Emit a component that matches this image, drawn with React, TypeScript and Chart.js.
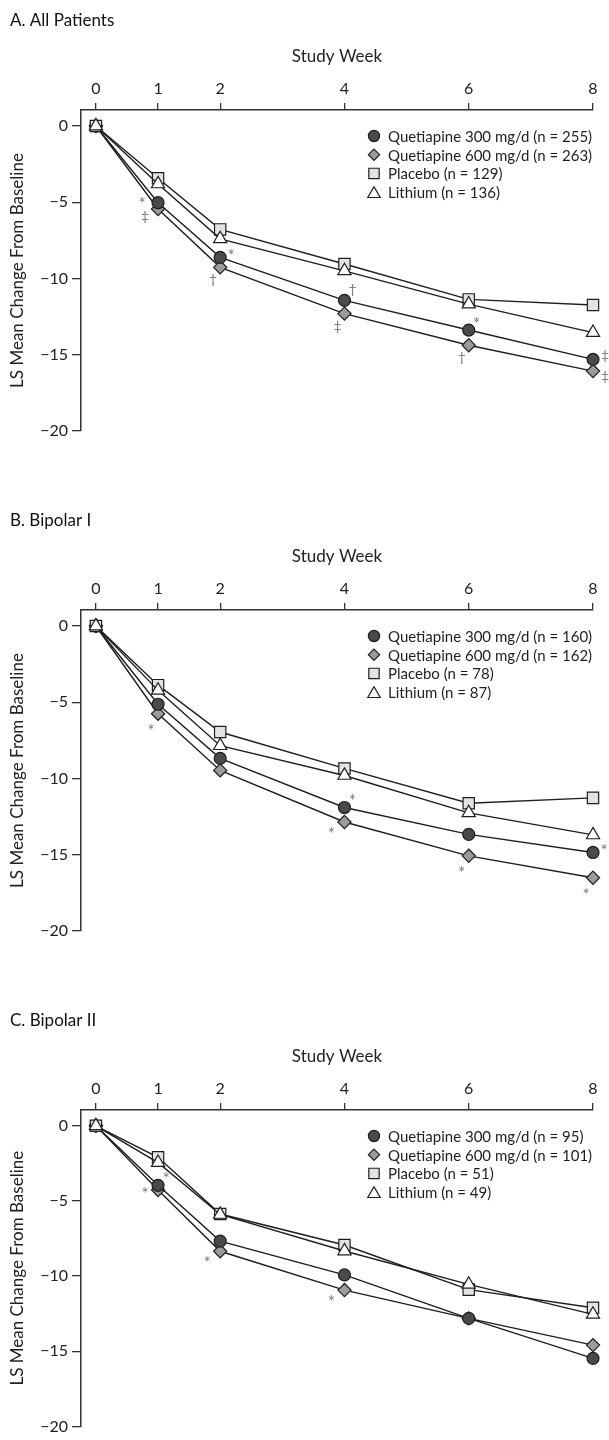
import React, { useEffect, useRef } from 'react';
import { Chart, registerables } from 'chart.js';

Chart.register(...registerables);

// ---------- data ----------
const WEEKS = [0, 1, 2, 4, 6, 8];
const X_TICKS = [0, 1, 2, 4, 6, 8];
const Y_TICKS = [-20, -15, -10, -5, 0];
const SERIES_NAMES = ['Quetiapine 300 mg/d', 'Quetiapine 600 mg/d', 'Placebo', 'Lithium'];

// A. All Patients
const A_Q300 = [0, -5.03, -8.61, -11.43, -13.38, -15.3];
const A_Q600 = [0, -5.44, -9.27, -12.3, -14.38, -16.07];
const A_PBO = [0, -3.43, -6.78, -9.05, -11.37, -11.74];
const A_LI = [0, -3.8, -7.4, -9.5, -11.68, -13.55];
const A_N = [255, 263, 129, 136];

// B. Bipolar I
const B_Q300 = [0, -5.13, -8.68, -11.9, -13.66, -14.85];
const B_Q600 = [0, -5.75, -9.47, -12.85, -15.07, -16.51];
const B_PBO = [0, -3.88, -6.95, -9.34, -11.62, -11.27];
const B_LI = [0, -4.22, -7.85, -9.8, -12.25, -13.7];
const B_N = [160, 162, 78, 87];

// C. Bipolar II
const C_Q300 = [0, -3.96, -7.67, -9.92, -12.81, -15.47];
const C_Q600 = [0, -4.27, -8.35, -10.93, -12.81, -14.59];
const C_PBO = [0, -2.1, -5.87, -7.93, -10.9, -12.11];
const C_LI = [0, -2.45, -5.9, -8.33, -10.55, -12.55];
const C_N = [95, 101, 51, 49];

// significance marks: series index, week, symbol, placement keyword
const A_MARKS = [
  { s: 0, w: 1, t: '*', p: 'left-up' },
  { s: 1, w: 1, t: '‡', p: 'left-down' },
  { s: 0, w: 2, t: '*', p: 'right-up' },
  { s: 1, w: 2, t: '†', p: 'below-left' },
  { s: 0, w: 4, t: '†', p: 'above-right' },
  { s: 1, w: 4, t: '‡', p: 'below-left' },
  { s: 0, w: 6, t: '*', p: 'above-right' },
  { s: 1, w: 6, t: '†', p: 'below-left' },
  { s: 0, w: 8, t: '‡', p: 'right' },
  { s: 1, w: 8, t: '‡', p: 'right-down' },
];
const B_MARKS = [
  { s: 1, w: 1, t: '*', p: 'below-left' },
  { s: 0, w: 4, t: '*', p: 'above-right' },
  { s: 1, w: 4, t: '*', p: 'left-down' },
  { s: 1, w: 6, t: '*', p: 'below-left' },
  { s: 0, w: 8, t: '*', p: 'right-up' },
  { s: 1, w: 8, t: '*', p: 'below-left' },
];
const C_MARKS = [
  { s: 1, w: 1, t: '*', p: 'left' },
  { s: 0, w: 1, t: '*', p: 'above-right' },
  { s: 1, w: 2, t: '*', p: 'left-down' },
  { s: 1, w: 4, t: '*', p: 'left-down' },
];

// ---------- styles ----------
const FONT = 'Lato, "Noto Sans", sans-serif';
const INK = '#1e1e1e';
const MARK_COLOR = '#7a7a7a';
const STYLES = [
  { pointStyle: 'circle', radius: 6, fill: '#4a4a4a', order: 2 },
  { pointStyle: 'rectRot', radius: 6.6, fill: '#9b9b9b', order: 3 },
  { pointStyle: 'rect', radius: 8, fill: '#e3e3e3', order: 1 },
  { pointStyle: 'triangle', radius: 7.6, fill: '#ffffff', order: 0 },
];
const PLACE: Record<string, [number, number]> = {
  left: [-13, 0],
  'left-up': [-16, -3],
  'left-down': [-13, 8],
  'below-left': [-7, 13],
  'above-right': [8, -10],
  'right-up': [11, -5],
  right: [12, -3],
  'right-down': [12, 6],
};

function drawMarker(ctx: CanvasRenderingContext2D, style: string, x: number, y: number, r: number, fill: string) {
  ctx.save();
  ctx.beginPath();
  if (style === 'circle') {
    ctx.arc(x, y, r, 0, Math.PI * 2);
  } else if (style === 'rectRot') {
    ctx.moveTo(x - r, y);
    ctx.lineTo(x, y - r);
    ctx.lineTo(x + r, y);
    ctx.lineTo(x, y + r);
    ctx.closePath();
  } else if (style === 'rect') {
    const h = r * Math.SQRT1_2;
    ctx.rect(x - h, y - h, 2 * h, 2 * h);
  } else {
    const c = y + r * 0.25;
    ctx.moveTo(x, c - r);
    ctx.lineTo(x + r * 0.866, c + r * 0.5);
    ctx.lineTo(x - r * 0.866, c + r * 0.5);
    ctx.closePath();
  }
  ctx.fillStyle = fill;
  ctx.fill();
  ctx.lineWidth = 1.2;
  ctx.strokeStyle = INK;
  ctx.stroke();
  ctx.restore();
}

interface PanelProps {
  title: string;
  series: number[][];
  n: number[];
  marks: { s: number; w: number; t: string; p: string }[];
  height: number;
  top: number;
}

function Panel({ title, series, n, marks, height, top }: PanelProps) {
  const ref = useRef<HTMLCanvasElement | null>(null);

  useEffect(() => {
    if (!ref.current) return;
    const decor = {
      id: 'decor',
      afterDraw(chart: any) {
        const ctx: CanvasRenderingContext2D = chart.ctx;
        ctx.save();
        // panel title
        ctx.fillStyle = '#111';
        ctx.font = `17px ${FONT}`;
        ctx.textBaseline = 'middle';
        ctx.textAlign = 'left';
        ctx.fillText(title, 10, 21);
        // legend
        const lx = 374;
        const ty = 136;
        const gap = 18.7;
        ctx.font = `15px ${FONT}`;
        SERIES_NAMES.forEach((name, i) => {
          const y = ty + i * gap;
          const st = STYLES[i];
          drawMarker(ctx, st.pointStyle, lx, y, st.pointStyle === 'rect' ? 7.3 : st.pointStyle === 'triangle' ? 7.2 : 5.6, st.fill);
          ctx.fillStyle = INK;
          ctx.textBaseline = 'middle';
          ctx.fillText(`${name} (n = ${n[i]})`, lx + 14, y + 1);
        });
        // significance marks
        ctx.fillStyle = MARK_COLOR;
        ctx.textAlign = 'center';
        ctx.textBaseline = 'alphabetic';
        marks.forEach((m) => {
          const meta = chart.getDatasetMeta(m.s);
          const pt = meta.data[WEEKS.indexOf(m.w)];
          if (!pt) return;
          ctx.font = m.t === '*' ? `17px ${FONT}` : `14px ${FONT}`;
          const [dx, dy] = PLACE[m.p] || [0, 0];
          const tm = ctx.measureText(m.t);
          const cy = pt.y + dy;
          const base = cy + (tm.actualBoundingBoxAscent - tm.actualBoundingBoxDescent) / 2;
          ctx.fillText(m.t, pt.x + dx, base);
        });
        ctx.restore();
      },
    };

    const chart = new Chart(ref.current, {
      type: 'line',
      data: {
        datasets: series.map((vals, i) => ({
          label: SERIES_NAMES[i],
          data: WEEKS.map((w, j) => ({ x: w, y: vals[j] })),
          borderColor: INK,
          borderWidth: 1.4,
          pointStyle: STYLES[i].pointStyle as any,
          pointRadius: STYLES[i].radius,
          pointHoverRadius: STYLES[i].radius,
          pointBackgroundColor: STYLES[i].fill,
          pointBorderColor: INK,
          pointBorderWidth: 1.2,
          tension: 0,
          fill: false,
          clip: false as any,
          order: STYLES[i].order,
        })),
      },
      options: {
        animation: false,
        responsive: false,
        maintainAspectRatio: false,
        events: [],
        layout: { padding: { left: 0, right: 16, top: 0, bottom: height - 431 } },
        plugins: {
          legend: { display: false },
          tooltip: { enabled: false },
          title: { display: false },
        },
        scales: {
          x: {
            type: 'linear',
            position: 'top',
            min: -0.24,
            max: 8,
            afterBuildTicks: (s: any) => {
              s.ticks = X_TICKS.map((v) => ({ value: v }));
            },
            afterFit: (s: any) => {
              s.height = 110;
            },
            grid: { display: true, drawOnChartArea: false, drawTicks: true, tickLength: 7, color: '#333', lineWidth: 1.3 },
            border: { display: true, color: '#333', width: 1.5 },
            ticks: { font: { family: FONT, size: 16 }, color: '#222', padding: 5, maxRotation: 0, autoSkip: false },
            title: {
              display: true,
              text: 'Study Week',
              font: { family: FONT, size: 17 },
              color: '#222',
              padding: { top: 46, bottom: 0 },
            },
          },
          y: {
            type: 'linear',
            position: 'left',
            min: -20,
            max: 1.05,
            afterBuildTicks: (s: any) => {
              s.ticks = Y_TICKS.map((v) => ({ value: v }));
            },
            afterFit: (s: any) => {
              s.width = 81;
            },
            grid: { display: true, drawOnChartArea: false, drawTicks: true, tickLength: 9, color: '#333', lineWidth: 1.3 },
            border: { display: true, color: '#333', width: 1.5 },
            ticks: {
              font: { family: FONT, size: 16 },
              color: '#222',
              padding: 4,
              autoSkip: false,
              callback: (v: any) => String(v).replace('-', '\u2212'),
            },
            title: {
              display: true,
              text: 'LS Mean Change From Baseline',
              font: { family: FONT, size: 17 },
              color: '#222',
              padding: { top: 7, bottom: 0 },
            },
          },
        },
      },
      plugins: [decor],
    });
    return () => chart.destroy();
  }, []);

  return (
    <canvas
      ref={ref}
      width={609}
      height={height}
      style={{ position: 'absolute', left: 0, top, width: 609, height, display: 'block' }}
    />
  );
}

export default function App() {
  return (
    <div style={{ position: 'absolute', left: 0, top: 0, width: 609, height: 1440, background: '#fff', overflow: 'hidden' }}>
      <Panel title="A. All Patients" series={[A_Q300, A_Q600, A_PBO, A_LI]} n={A_N} marks={A_MARKS} height={500} top={0} />
      <Panel title="B. Bipolar I" series={[B_Q300, B_Q600, B_PBO, B_LI]} n={B_N} marks={B_MARKS} height={500} top={500} />
      <Panel title="C. Bipolar II" series={[C_Q300, C_Q600, C_PBO, C_LI]} n={C_N} marks={C_MARKS} height={440} top={1000} />
    </div>
  );
}
